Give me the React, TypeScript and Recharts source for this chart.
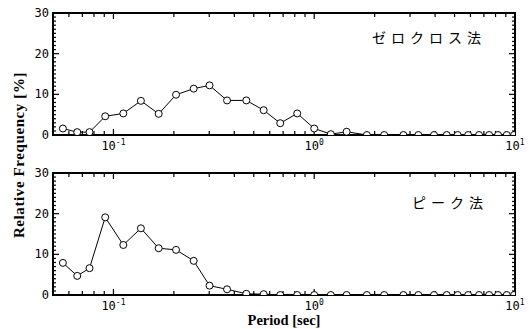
import { Label, Line, LineChart, ReferenceArea, ReferenceLine, XAxis, YAxis } from "recharts";

// period bins [sec]
const periods = [
  0.056, 0.066, 0.076, 0.091, 0.112, 0.137, 0.168, 0.205, 0.251, 0.301, 0.368,
  0.459, 0.56, 0.677, 0.823, 1.0, 1.21, 1.45, 1.83, 2.23, 2.78, 3.3, 3.95, 4.57,
  5.18, 5.84, 6.62, 7.43, 8.23, 9.1, 9.89,
];

// relative frequency [%] - zero crossing method
const zeroCross = [
  1.6, 0.7, 0.7, 4.6, 5.3, 8.4, 5.2, 9.9, 11.4, 12.2, 8.5, 8.5, 6.1, 2.9, 5.3,
  1.6, 0.2, 0.8, 0, 0, 0, 0, 0, 0, 0, 0, 0, 0, 0, 0, 0,
];

// relative frequency [%] - peak method
const peak = [
  7.9, 4.7, 6.6, 19.1, 12.3, 16.4, 11.5, 11.1, 8.4, 2.3, 1.4, 0.3, 0.2, 0, 0,
  0, 0, 0, 0, 0, 0, 0, 0, 0, 0, 0, 0, 0, 0, 0, 0,
];

const xTicks = [
  0.05, 0.06, 0.07, 0.08, 0.09, 0.1, 0.2, 0.3, 0.4, 0.5, 0.6, 0.7, 0.8, 0.9, 1,
  2, 3, 4, 5, 6, 7, 8, 9, 10,
];
const xLabels = [0.1, 1, 10];
const xExp: Record<number, string> = { 0.1: "-1", 1: "0", 10: "1" };
const yTicks = Array.from({ length: 31 }, (_, i) => i);
const yLabels = [0, 10, 20, 30];

const X_MIN = 0.05;
const X_MAX = 10;
const Y_MAX = 30;

const data = periods.map((p, i) => ({ p, zero: zeroCross[i], peak: peak[i] }));

const mono = "'DejaVu Sans Mono', monospace";
const serif = "'Liberation Serif', serif";

// inward tick lengths, in data units (~6px / ~4px / ~3px)
const xTickLen = (v: number) => (xExp[v] ? 1.5 : 1);
const yTickFactor = (v: number) => Math.pow(10, (v % 10 === 0 ? 6 : 3) / 201);

const XLabelTick = (props: any) => {
  const { x, y, payload } = props;
  return (
    <text x={x} y={y + 15} textAnchor="middle" fontFamily={mono} fontSize={12} fill="#000">
      10<tspan dy={-5} fontSize={8}>{xExp[payload.value]}</tspan>
    </text>
  );
};

const YLabelTick = (props: any) => {
  const { x, y, payload } = props;
  return (
    <text x={x - 4} y={y + 4} textAnchor="end" fontFamily={mono} fontSize={12} fill="#000">
      {payload.value}
    </text>
  );
};

const tickStroke = { stroke: "#000", strokeWidth: 1.2, ifOverflow: "visible" as const };

const Panel = ({ dataKey, xLabel }: { dataKey: string; xLabel?: boolean }) => (
  <LineChart
    width={530}
    height={xLabel ? 169 : 160}
    data={data}
    margin={{ top: 13, right: 15, left: 0, bottom: 0 }}
  >
    <XAxis
      dataKey="p"
      type="number"
      scale="log"
      domain={[X_MIN, X_MAX]}
      ticks={xLabels}
      interval={0}
      tickSize={0}
      tickMargin={0}
      tickLine={false}
      axisLine={false}
      tick={<XLabelTick />}
      height={xLabel ? 34 : 25}
      allowDataOverflow
    >
      {xLabel && (
        <Label
          value="Period [sec]"
          position="insideBottom"
          offset={4}
          style={{ fontFamily: serif, fontWeight: "bold", fontSize: 14.5, fill: "#000" }}
        />
      )}
    </XAxis>
    <YAxis
      domain={[0, Y_MAX]}
      ticks={yLabels}
      interval={0}
      tickSize={0}
      tickMargin={0}
      tickLine={false}
      axisLine={false}
      tick={<YLabelTick />}
      width={53}
      allowDataOverflow
    />
    {xTicks.map((v) => (
      <ReferenceLine
        key={`b${v}`}
        segment={[{ x: v, y: 0 }, { x: v, y: xTickLen(v) }]}
        {...tickStroke}
      />
    ))}
    {xTicks.map((v) => (
      <ReferenceLine
        key={`t${v}`}
        segment={[{ x: v, y: Y_MAX }, { x: v, y: Y_MAX - xTickLen(v) }]}
        {...tickStroke}
      />
    ))}
    {yTicks.map((v) => (
      <ReferenceLine
        key={`l${v}`}
        segment={[{ x: X_MIN, y: v }, { x: X_MIN * yTickFactor(v), y: v }]}
        {...tickStroke}
      />
    ))}
    {yTicks.map((v) => (
      <ReferenceLine
        key={`r${v}`}
        segment={[{ x: X_MAX, y: v }, { x: X_MAX / yTickFactor(v), y: v }]}
        {...tickStroke}
      />
    ))}
    <ReferenceArea
      x1={X_MIN}
      x2={X_MAX}
      y1={0}
      y2={Y_MAX}
      fill="none"
      fillOpacity={0}
      stroke="#000"
      strokeOpacity={1}
      strokeWidth={2}
      ifOverflow="visible"
    />
    <Line
      dataKey={dataKey}
      stroke="#000"
      strokeWidth={1}
      dot={{ r: 3.5, stroke: "#000", strokeWidth: 1, fill: "#fff" }}
      isAnimationActive={false}
    />
  </LineChart>
);

const jp = {
  position: "absolute" as const,
  fontFamily: "'Noto Sans CJK JP', sans-serif",
  fontSize: 14,
  letterSpacing: 5,
  color: "#000",
  lineHeight: "16px",
};

const App = () => {
  return (
    <div
      style={{
        position: "absolute",
        left: 0,
        top: 0,
        width: 530,
        height: 329,
        background: "#fff",
        overflow: "hidden",
      }}
    >
      <div style={{ position: "absolute", left: 0, top: 0 }}>
        <Panel dataKey="zero" />
      </div>
      <div style={{ position: "absolute", left: 0, top: 160 }}>
        <Panel dataKey="peak" xLabel />
      </div>
      <div style={{ ...jp, left: 372, top: 29 }}>ゼロクロス法</div>
      <div style={{ ...jp, left: 412, top: 194 }}>ピーク法</div>
      <div
        style={{
          position: "absolute",
          left: 19,
          top: 155,
          transform: "translate(-50%, -50%) rotate(-90deg)",
          whiteSpace: "nowrap",
          fontFamily: serif,
          fontWeight: "bold",
          fontSize: 15,
          letterSpacing: 0.6,
          color: "#000",
        }}
      >
        Relative Frequency [%]
      </div>
    </div>
  );
};

export default App;
